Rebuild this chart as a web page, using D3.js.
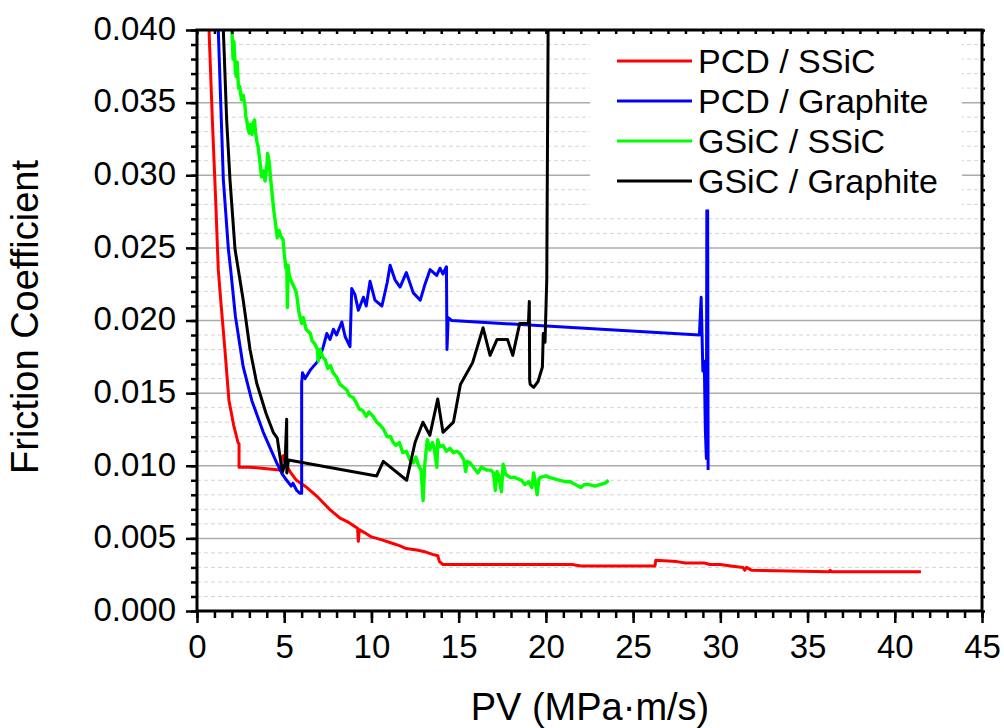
<!DOCTYPE html>
<html>
<head>
<meta charset="utf-8">
<script src="https://cdn.jsdelivr.net/npm/d3@7"></script>
<style>
  body { margin: 0; background: #fff; }
  svg text { font-family: "Liberation Sans", Arial, sans-serif; fill: #000; }
</style>
</head>
<body>
<svg id="chart" width="1004" height="728"></svg>
<script>
// [PV, friction coefficient]
var pcdSsic = [
  [0.62,0.046],[0.69,0.040],[0.88,0.0338],[1.07,0.0283],[1.22,0.0235],[1.36,0.0214],
  [1.6,0.0180],[1.83,0.0145],[2.1,0.0128],[2.35,0.0116],[2.41,0.0115],[2.41,0.0099],
  [3.0,0.0099],[4.0,0.0098],[4.76,0.0097],[4.86,0.0106],[4.95,0.0107],[5.05,0.0102],
  [5.33,0.0096],[5.7,0.0090],[6.3,0.0085],[6.96,0.0078],[7.6,0.0070],[8.2,0.0064],
  [8.7,0.0061],[9.2,0.0057],[9.25,0.0048],[9.3,0.0056],[9.6,0.0054],[10.0,0.0051],
  [10.6,0.0049],[11.1,0.0047],[11.6,0.0045],[12.0,0.0043],[12.6,0.0042],[13.0,0.0041],
  [13.5,0.0039],[13.8,0.0038],[13.9,0.0034],[14.1,0.0032],[17.0,0.0032],[21.5,0.0032],
  [22.0,0.0031],[26.25,0.0031],[26.3,0.0035],[27.5,0.0034],[28.0,0.0033],[29.1,0.0033],
  [29.4,0.0032],[30.0,0.0032],[30.6,0.0031],[31.3,0.0030],[31.4,0.0028],[31.5,0.0030],
  [31.8,0.0028],[36.2,0.0027],[36.3,0.0028],[36.4,0.0027],[41.5,0.0027]
];

var pcdGraphite = [
  [1.15,0.046],[1.22,0.040],[1.51,0.0297],[1.8,0.0249],[1.93,0.0235],[2.2,0.0203],
  [2.65,0.0168],[3.14,0.0145],[3.8,0.0123],[4.57,0.0102],[4.9,0.0094],[5.14,0.0090],
  [5.4,0.0086],[5.5,0.0088],[5.72,0.0083],[5.9,0.0081],[6.0,0.0081],[6.0,0.0157],
  [6.05,0.0164],[6.2,0.0160],[6.5,0.0166],[6.86,0.0171],[7.05,0.0175],[7.24,0.0182],
  [7.44,0.0191],[7.63,0.0187],[7.82,0.0194],[8.0,0.0190],[8.3,0.0199],[8.49,0.0189],
  [8.77,0.0182],[8.87,0.0222],[9.05,0.0218],[9.25,0.0207],[9.54,0.0216],[9.7,0.0210],
  [9.92,0.0227],[10.2,0.0214],[10.6,0.0210],[10.9,0.0226],[11.07,0.0238],[11.35,0.0228],
  [11.64,0.0223],[12.0,0.0233],[12.4,0.0219],[12.8,0.0214],[13.07,0.0225],[13.36,0.0235],
  [13.74,0.0231],[13.93,0.0236],[14.1,0.0232],[14.3,0.0237],[14.33,0.0180],[14.4,0.0202],
  [14.6,0.0200],[28.8,0.0190],[28.9,0.0216],[29.0,0.0165],[29.08,0.0172],[29.14,0.0125],
  [29.2,0.0105],[29.25,0.042],[29.3,0.0097]
];

var gsicSsic = [
  [1.95,0.0415],[2.0,0.0400],[2.05,0.0385],[2.07,0.0380],[2.12,0.0392],[2.2,0.0371],
  [2.25,0.0368],[2.3,0.0378],[2.38,0.0360],[2.45,0.0361],[2.55,0.0352],[2.65,0.0355],
  [2.75,0.0348],[2.8,0.0340],[2.85,0.0338],[2.92,0.0332],[3.0,0.0329],[3.05,0.0335],
  [3.15,0.0328],[3.22,0.0336],[3.3,0.0338],[3.35,0.0330],[3.45,0.0322],[3.5,0.0320],
  [3.6,0.0310],[3.7,0.0299],[3.8,0.0303],[3.9,0.0296],[4.0,0.0306],[4.05,0.0315],
  [4.15,0.0308],[4.2,0.0300],[4.3,0.0288],[4.4,0.0276],[4.5,0.0267],[4.6,0.0257],
  [4.7,0.0262],[4.8,0.0258],[4.93,0.0256],[5.0,0.0246],[5.1,0.0236],[5.15,0.0237],
  [5.18,0.0209],[5.22,0.0238],[5.3,0.0230],[5.45,0.0226],[5.6,0.0222],[5.7,0.0219],
  [5.85,0.0205],[6.0,0.0198],[6.1,0.0202],[6.25,0.0194],[6.5,0.0191],[6.6,0.0186],
  [6.75,0.0184],[6.9,0.0180],[6.95,0.0172],[7.05,0.0180],[7.2,0.0175],[7.35,0.0173],
  [7.5,0.0167],[7.65,0.0169],[7.8,0.0164],[8.0,0.0161],[8.2,0.0156],[8.4,0.0154],
  [8.6,0.0152],[8.75,0.0148],[8.95,0.0147],[9.1,0.0144],[9.3,0.0139],[9.5,0.0138],
  [9.7,0.0134],[9.85,0.0137],[10.1,0.0134],[10.3,0.0130],[10.5,0.0128],[10.7,0.0125],
  [10.9,0.0120],[11.1,0.0120],[11.25,0.0116],[11.4,0.0114],[11.6,0.0116],[11.8,0.0109],
  [12.0,0.0110],[12.2,0.0104],[12.4,0.0102],[12.55,0.0106],[12.7,0.0100],[12.85,0.0097],
  [12.96,0.0076],[13.05,0.0100],[13.2,0.0118],[13.35,0.0111],[13.5,0.0116],[13.6,0.0112],
  [13.75,0.0099],[13.8,0.0118],[13.9,0.0113],[14.1,0.0114],[14.3,0.0110],[14.5,0.0112],
  [14.7,0.0109],[14.9,0.0110],[15.1,0.0108],[15.3,0.0104],[15.4,0.0096],[15.5,0.0103],
  [15.65,0.0102],[15.85,0.0099],[16.1,0.0095],[16.3,0.0099],[16.6,0.0097],[16.85,0.0097],
  [17.0,0.0095],[17.1,0.0083],[17.2,0.0096],[17.3,0.0093],[17.45,0.0082],[17.55,0.0101],
  [17.7,0.0094],[17.95,0.0092],[18.2,0.0092],[18.4,0.0091],[18.6,0.0090],[18.8,0.0087],
  [19.0,0.0089],[19.2,0.0085],[19.3,0.0095],[19.4,0.0088],[19.5,0.0080],[19.6,0.0091],
  [19.7,0.0092],[20.0,0.0093],[20.2,0.0092],[20.5,0.0091],[20.8,0.0090],[21.1,0.0089],
  [21.4,0.0089],[21.7,0.0087],[22.0,0.0085],[22.2,0.0087],[22.5,0.0087],[22.8,0.0086],
  [23.1,0.0087],[23.4,0.0088],[23.6,0.0090]
];

var gsicGraphite = [
  [1.45,0.046],[1.51,0.040],[1.7,0.0338],[1.89,0.0297],[2.18,0.0249],[2.37,0.0235],
  [2.65,0.0214],[3.04,0.0180],[3.42,0.0157],[3.96,0.0136],[4.37,0.0123],[4.6,0.0119],
  [4.76,0.0106],[4.91,0.0096],[5.05,0.0102],[5.14,0.0132],[5.15,0.0095],[5.24,0.0104],
  [10.3,0.0093],[10.68,0.0103],[12.02,0.0090],[12.5,0.0116],[12.95,0.0130],[13.35,0.0121],
  [13.8,0.0146],[14.1,0.0123],[14.7,0.0130],[15.1,0.0156],[15.8,0.0171],[16.4,0.0195],
  [16.8,0.0176],[17.2,0.0187],[17.8,0.0187],[18.1,0.0176],[18.5,0.0198],[19.0,0.0198],
  [19.05,0.0213],[19.07,0.0159],[19.1,0.0156],[19.3,0.0154],[19.55,0.0158],[19.8,0.0168],
  [19.85,0.0191],[19.95,0.0185],[20.05,0.0228],[20.15,0.045]
];

var seriesNames = ["PCD / SSiC", "PCD / Graphite", "GSiC / SSiC", "GSiC / Graphite"];
var seriesColors = ["#ff0000", "#0000ff", "#00ff00", "#000000"];
var seriesData = [pcdSsic, pcdGraphite, gsicSsic, gsicGraphite];

var xMajorTicks = d3.range(0, 46, 5);
var xMinorTicks = d3.range(0, 46, 1);
var yMajorTicks = [0, 0.005, 0.010, 0.015, 0.020, 0.025, 0.030, 0.035, 0.040];
var yMinorTicks = d3.range(0, 41).map(function(d){ return d / 1000; });

var svg = d3.select("#chart");
var plotLeft = 197, plotRight = 982, plotTop = 30, plotBottom = 611;

var x = d3.scaleLinear().domain([0, 45]).range([plotLeft, plotRight]);
var y = d3.scaleLinear().domain([0, 0.04]).range([plotBottom, plotTop]);

svg.append("defs").append("clipPath").attr("id", "plotclip")
  .append("rect")
  .attr("x", plotLeft).attr("y", plotTop)
  .attr("width", plotRight - plotLeft).attr("height", plotBottom - plotTop);

// grid
var grid = svg.append("g");
grid.selectAll("line.minor")
  .data(yMinorTicks.filter(function(d, i){ return i % 5 != 0; }))
  .enter().append("line")
  .attr("class", "minor")
  .attr("x1", plotLeft).attr("x2", plotRight)
  .attr("y1", function(d){ return y(d); }).attr("y2", function(d){ return y(d); })
  .attr("stroke", "#d4d4d4").attr("stroke-width", 1).attr("stroke-dasharray", "4,3");
grid.selectAll("line.major")
  .data(yMajorTicks.slice(1, -1))
  .enter().append("line")
  .attr("class", "major")
  .attr("x1", plotLeft).attr("x2", plotRight)
  .attr("y1", function(d){ return y(d); }).attr("y2", function(d){ return y(d); })
  .attr("stroke", "#ababab").attr("stroke-width", 1.5);

// curves
var line = d3.line()
  .x(function(d){ return x(d[0]); })
  .y(function(d){ return y(d[1]); });

var plot = svg.append("g").attr("clip-path", "url(#plotclip)");
seriesData.forEach(function(s, i){
  plot.append("path")
    .datum(s)
    .attr("d", line)
    .attr("fill", "none")
    .attr("stroke", seriesColors[i])
    .attr("stroke-width", i == 2 ? 3.4 : 3)
    .attr("stroke-linejoin", "round");
});

// legend (white box sits on top of grid and data)
var legend = svg.append("g");
legend.append("rect")
  .attr("x", 590).attr("y", plotTop + 1.5)
  .attr("width", 372).attr("height", 178)
  .attr("fill", "#fff");
seriesNames.forEach(function(name, i){
  var ly = 61 + i * 40;
  legend.append("line")
    .attr("x1", 617).attr("x2", 692)
    .attr("y1", ly).attr("y2", ly)
    .attr("stroke", seriesColors[i]).attr("stroke-width", 3);
  legend.append("text")
    .attr("x", 698).attr("y", ly + 12)
    .style("font-size", "34px")
    .text(name);
});

// axes
var xAxis = svg.append("g").attr("transform", "translate(0," + plotBottom + ")")
  .call(d3.axisBottom(x).tickValues(xMajorTicks).tickSize(12).tickPadding(12)
    .tickFormat(d3.format("d")));
svg.append("g").attr("transform", "translate(0," + plotBottom + ")")
  .call(d3.axisBottom(x).tickValues(xMinorTicks).tickSize(7).tickFormat(""));
svg.append("g").attr("transform", "translate(0," + plotTop + ")")
  .call(d3.axisBottom(x).tickValues(xMinorTicks).tickSize(4).tickFormat(""));

var yAxis = svg.append("g").attr("transform", "translate(" + plotLeft + ",0)")
  .call(d3.axisLeft(y).tickValues(yMajorTicks).tickSize(11).tickPadding(10)
    .tickFormat(d3.format(".3f")));
svg.append("g").attr("transform", "translate(" + plotLeft + ",0)")
  .call(d3.axisLeft(y).tickValues(yMinorTicks).tickSize(6).tickFormat(""));
svg.append("g").attr("transform", "translate(" + plotRight + ",0)")
  .call(d3.axisRight(y).tickValues(yMinorTicks).tickSize(3).tickFormat(""));

svg.selectAll(".domain").remove();
svg.selectAll(".tick line").attr("stroke", "#000").attr("stroke-width", 2.5);
svg.selectAll(".tick text")
  .style("font-size", "33px")
  .attr("font-family", null)
  .attr("fill", "#000");
yAxis.selectAll(".tick text").attr("dy", "0.28em");

// frame
svg.append("rect")
  .attr("x", plotLeft).attr("y", plotTop)
  .attr("width", plotRight - plotLeft).attr("height", plotBottom - plotTop)
  .attr("fill", "none").attr("stroke", "#000").attr("stroke-width", 3);

// axis titles
svg.append("text")
  .attr("x", 590).attr("y", 720)
  .attr("text-anchor", "middle")
  .style("font-size", "38px")
  .text("PV (MPa·m/s)");
svg.append("text")
  .attr("transform", "translate(38,317) rotate(-90)")
  .attr("text-anchor", "middle")
  .style("font-size", "38px")
  .text("Friction Coefficient");
</script>
</body>
</html>
